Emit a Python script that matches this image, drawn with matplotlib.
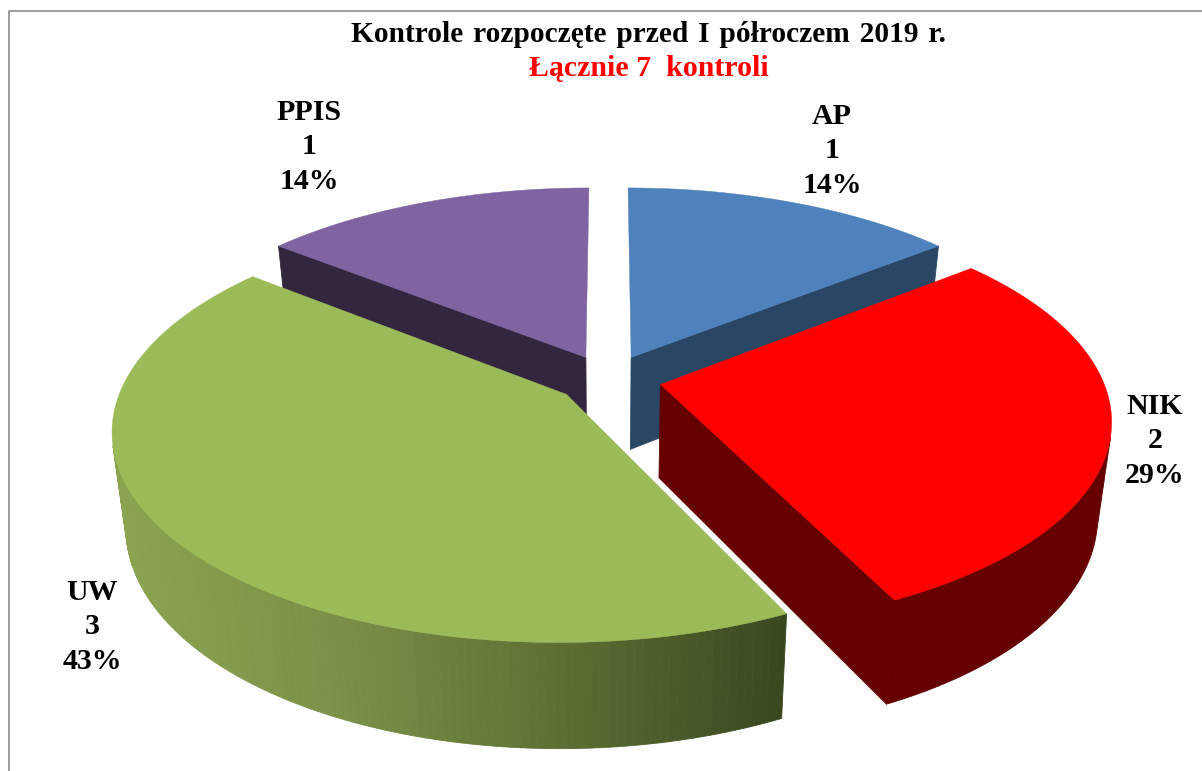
"""3D exploded pie of inspections, projected by hand onto pixel coordinates."""
import numpy as np
import matplotlib
matplotlib.use("Agg")
import matplotlib.pyplot as plt
from matplotlib.colors import LinearSegmentedColormap
from matplotlib.patches import Polygon

W, H = 1202, 771

LABELS = ["AP", "NIK", "UW", "PPIS"]
VALUES = [1, 2, 3, 1]
TOP_COLORS = ["#4f81bd", "#ff0000", "#9bbb59", "#8064a2"]
SIDE_COLORS = ["#2a4665", "#660000", None, "#32273f"]
UW_SIDE = LinearSegmentedColormap.from_list("uw", ["#8aa44e", "#7a9047", "#5c6f33", "#3a4820"])

TITLE = "Kontrole \u200arozpoczęte \u200aprzed \u200aI \u200apółroczem \u200a2019 \u200ar."
SUBTITLE = "Łącznie 7  kontroli"

# projection
CX, CY = 608.5, 379.0
RX, RY = 442.0, 203.0
PERSP = 0.16
EXPLODE = 0.12
DEPTH_X = 0.972
DEPTH_Y = 1.05
DEPTH_OFF = 74.0

LABEL_POS = [(832, 151), (1155, 441), (92, 627), (309, 147)]


def project(u, v):
    s = 1.0 / (1.0 + PERSP * v)
    return CX + RX * u * s, CY - RY * v * s


def drop(x, y):
    return CX + (x - CX) * DEPTH_X, y * DEPTH_Y + DEPTH_OFF


def signed_area(pts):
    x, y = np.asarray(pts).T
    return 0.5 * np.sum(x * np.roll(y, -1) - np.roll(x, -1) * y)


def wedge_outline(a0, a1, n=160):
    """Apex followed by the arc, clockwise from 12 o'clock, in pixels."""
    mid = 0.5 * (a0 + a1)
    ou, ov = EXPLODE * np.sin(mid), EXPLODE * np.cos(mid)
    t = np.linspace(a0, a1, n)
    u = np.r_[ou, ou + np.sin(t)]
    v = np.r_[ov, ov + np.cos(t)]
    return np.column_stack(project(u, v))


def add_face(ax, quad, c):
    ax.add_patch(Polygon(quad, closed=True, fc=c, ec=c, lw=0.6,
                         joinstyle="round", zorder=2))


def draw_wedge(ax, a0, a1, top, side):
    pts = wedge_outline(a0, a1)
    low = np.column_stack(drop(pts[:, 0], pts[:, 1]))
    # which way round is a face visible: the top face has the reference sign
    ref = signed_area(pts)
    n = len(pts)
    walls, arc = [], []
    for i in range(n):
        j = (i + 1) % n
        # the two walls along 12 o'clock stay hidden in the gap
        if i == 0 and abs(np.sin(a0)) < 1e-6:
            continue
        if i == n - 1 and abs(np.sin(a1)) < 1e-6:
            continue
        quad = [pts[j], pts[i], low[i], low[j]]
        if signed_area(quad) * ref > 0:
            if 0 < i < n - 1:
                arc.append((i, quad))
            else:
                walls.append(quad)
    for quad in walls:
        add_face(ax, quad, side if side is not None else UW_SIDE(0.0))
    if arc and side is None:
        xs = [q[0][0] for _, q in arc]
        for _, quad in arc:
            add_face(ax, quad, UW_SIDE((quad[0][0] - min(xs)) / (max(xs) - min(xs))))
    elif arc:
        # solid colour: one polygon for the whole visible rim
        first, last = arc[0][0], arc[-1][0] + 1
        add_face(ax, np.r_[pts[first:last + 1], low[first:last + 1][::-1]], side)
    ax.add_patch(Polygon(pts, closed=True, fc=top, ec=top, lw=0.3,
                         joinstyle="round", zorder=2))


fig = plt.figure(figsize=(W / 100, H / 100), dpi=100)
ax = fig.add_axes([0, 0, 1, 1])
ax.set_xlim(0, W)
ax.set_ylim(H, 0)
ax.axis("off")

plt.rcParams["font.family"] = ["Liberation Serif", "DejaVu Serif"]

# frame is only visible on the left and the top
ax.plot([8.5, 8.5, W], [H, 10.5, 10.5], color="#8c8c8c", lw=1.2, zorder=1)

edges = np.r_[0, np.cumsum(VALUES)] / np.sum(VALUES) * 2 * np.pi
for idx in [0, 3, 1, 2]:
    draw_wedge(ax, edges[idx], edges[idx + 1], TOP_COLORS[idx], SIDE_COLORS[idx])

total = sum(VALUES)
for name, val, (x, y) in zip(LABELS, VALUES, LABEL_POS):
    ax.text(x, y, f"{name}\n{val}\n{val / total:.0%}", ha="center", va="center",
            fontsize=21.5, fontweight="bold", linespacing=1.36, zorder=5)

ax.text(648.5, 34, TITLE, ha="center", va="center", fontsize=21.2, fontweight="bold")
ax.text(649, 69, SUBTITLE, ha="center", va="center", fontsize=21.5,
        fontweight="bold", color="#ff0000")

fig.savefig("out.png", dpi=100)
